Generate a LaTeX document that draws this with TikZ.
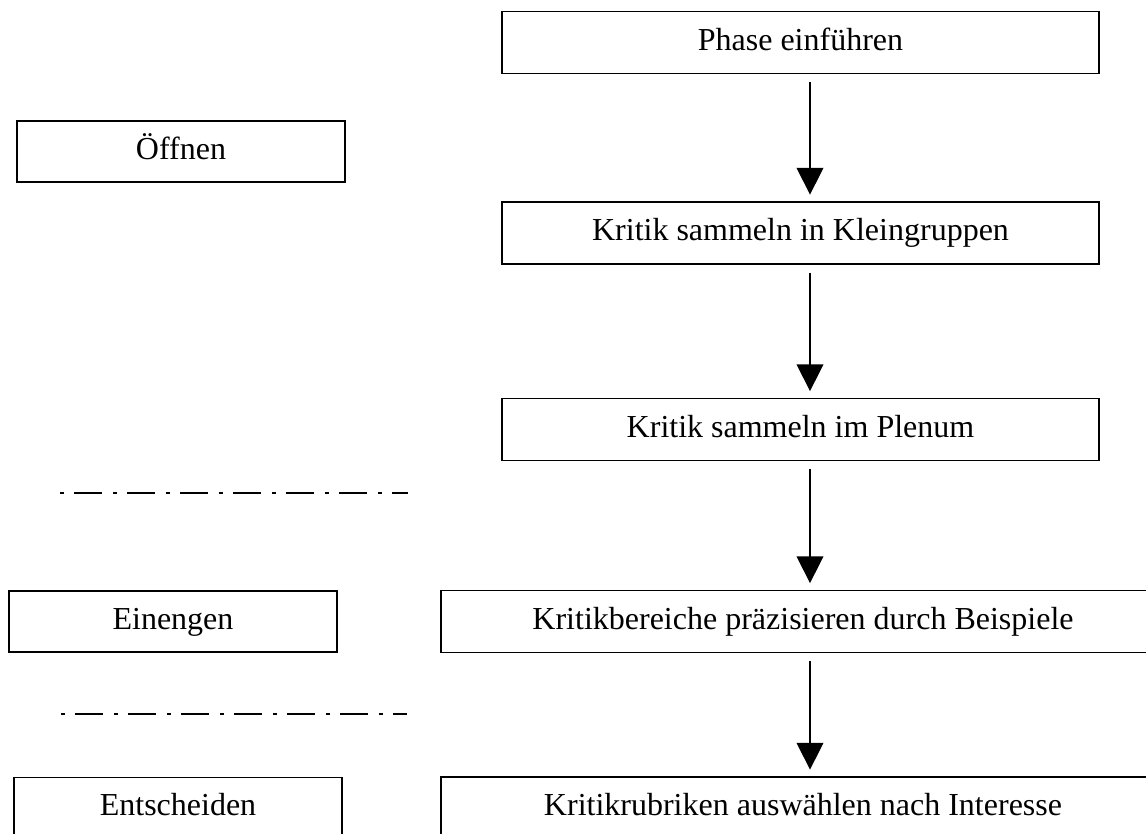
\documentclass[tikz,border=0pt]{standalone}
\usepackage{fontspec}
\setmainfont{Liberation Serif}
\usetikzlibrary{arrows.meta}

\begin{document}
\begin{tikzpicture}[
      x=0.75pt, y=-0.75pt,
      every node/.style={draw, line width=1.1pt, inner sep=0pt, align=center,
        font=\fontsize{24}{28}\selectfont, text height=16.6pt, text depth=5.3pt},
      phase/.style={minimum width=246pt, minimum height=46pt},
      task/.style={minimum width=448pt, minimum height=46.5pt},
      widetask/.style={minimum width=543pt, minimum height=46.5pt},
      flow/.style={line width=1.1pt, -{Triangle[width=20pt,length=20pt]},
        shorten <=6pt, shorten >=5pt},
      divider/.style={line width=2.1pt, dash pattern=on 3pt off 7.5pt on 21pt off 8.25pt},]
      \useasboundingbox (0,0) rectangle (1146,834);
      % phases on the left
      \node[phase] (open) at (181,151.5) {Öffnen};
      \node[phase] (narrow) at (173,621.5) {Einengen};
      \node[phase] (decide) at (178,808) {Entscheiden};
      % steps on the right
      \node[task] (intro) at (800.5,42.5) {Phase einführen};
      \node[task] (groups) at (800.5,233) {Kritik sammeln in Kleingruppen};
      \node[task] (plenum) at (800.5,429.5) {Kritik sammeln im Plenum};
      \node[widetask] (examples) at (803,621.5) {Kritikbereiche präzisieren durch Beispiele};
      \node[widetask] (choose) at (803,808) {Kritikrubriken auswählen nach Interesse};
      % arrows
      \coordinate (axis) at (810,0);
      \draw[flow] (intro.south -| axis) -- (groups.north -| axis);
      \draw[flow] (groups.south -| axis) -- (plenum.north -| axis);
      \draw[flow] (plenum.south -| axis) -- (examples.north -| axis);
      \draw[flow] (examples.south -| axis) -- (choose.north -| axis);
      % separators
      \coordinate (sep1a) at (60,493);
      \coordinate (sep1b) at (408,493);
      \coordinate (sep2a) at (61,714);
      \coordinate (sep2b) at (407,714);
      \draw[divider] (sep1a) -- (sep1b);
      \draw[divider] (sep2a) -- (sep2b);
    \end{tikzpicture}
\end{document}
